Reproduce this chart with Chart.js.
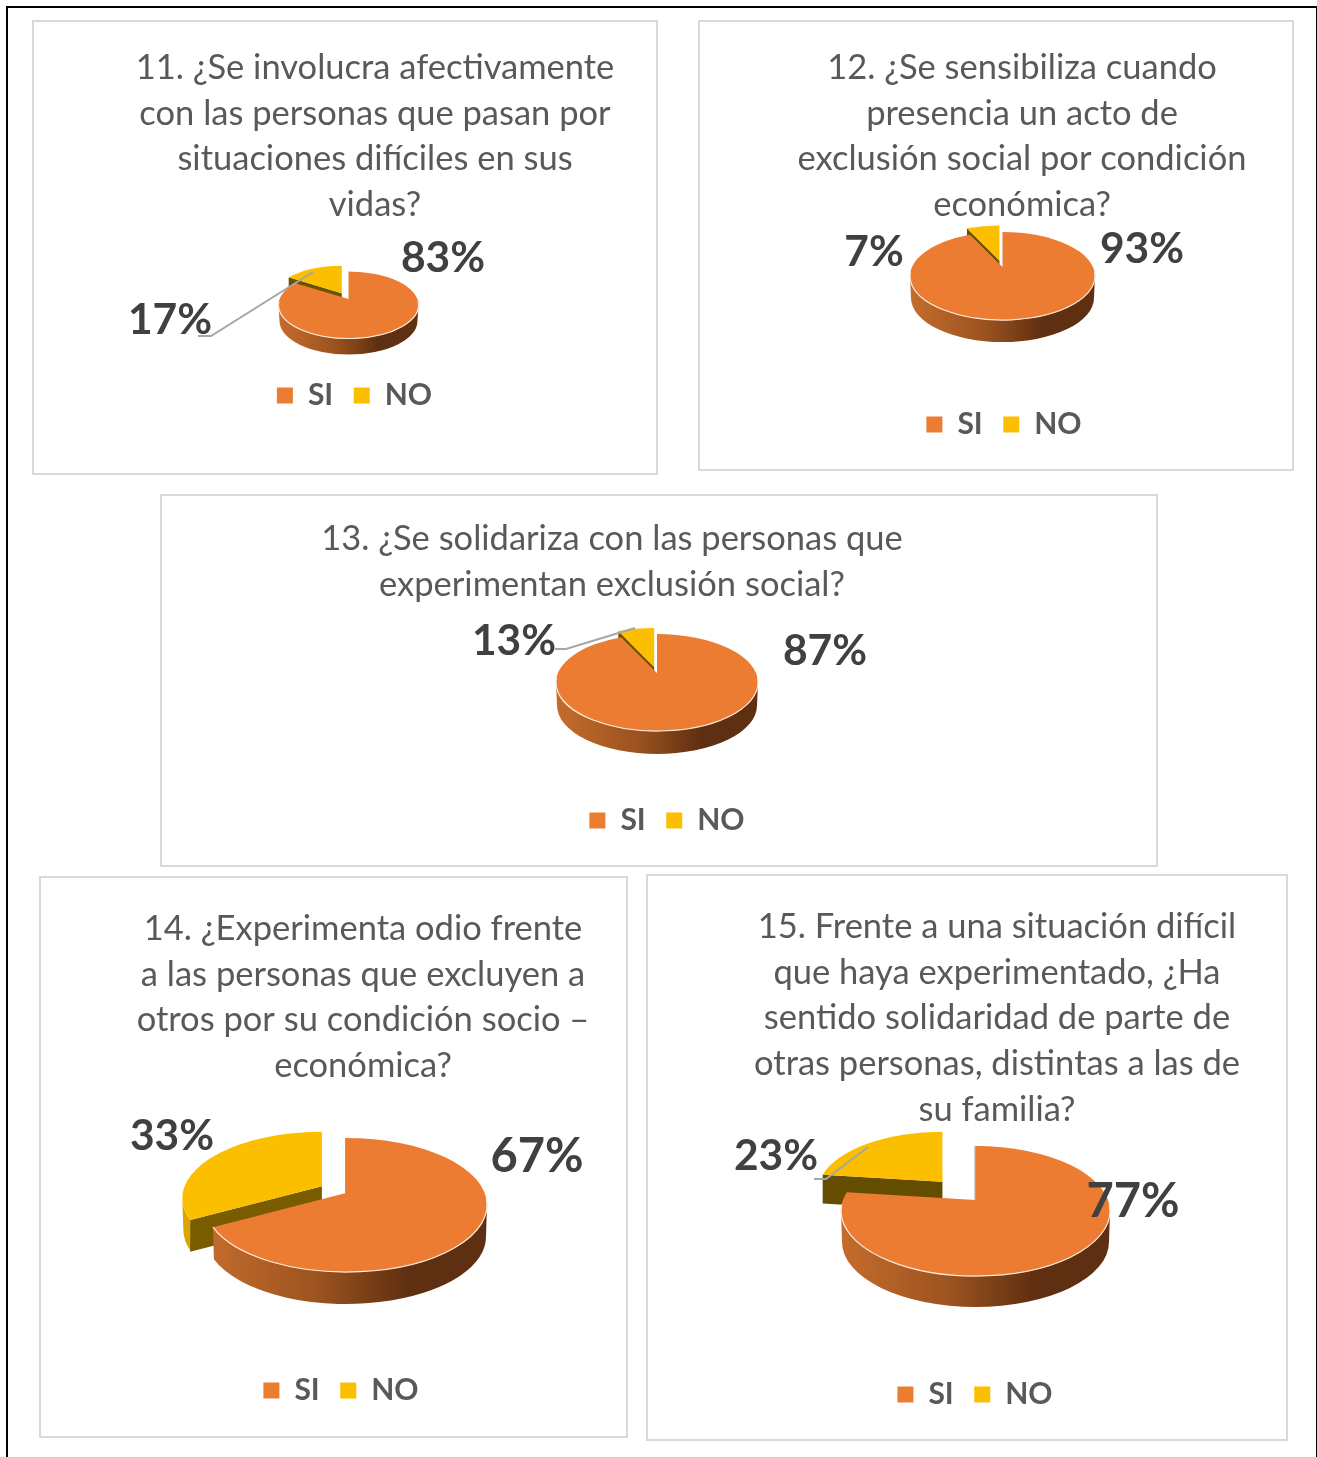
<!DOCTYPE html>
<html><head><meta charset="utf-8">
<style>
html,body{margin:0;padding:0;background:#fff;overflow:hidden}
#frame{position:absolute;left:6px;top:6px;width:1308px;height:1460px;border:2px solid #000}
.box{position:absolute;box-sizing:border-box;border:2px solid #d9d9d9;background:#fff}
canvas{position:absolute;display:block}
</style>
<script src="https://cdn.jsdelivr.net/npm/chart.js@4/dist/chart.umd.min.js"></script>
</head><body>
<div id="frame"></div>
<script>
const categories = ['SI', 'NO'];
// Printed percentages
const siLabels = [83, 93, 87, 67, 77];
const noLabels = [17, 7, 13, 33, 23];
// Slice sizes as drawn (chart 13's slice is visibly narrower than its printed 13 %)
const siSlices = [84, 93, 93, 67, 77];
const noSlices = [16, 7, 7, 33, 23];
const title11 = ['11. ¿Se involucra afectivamente', 'con las personas que pasan por', 'situaciones difíciles en sus', 'vidas?'];
const title12 = ['12. ¿Se sensibiliza cuando', 'presencia un acto de', 'exclusión social por condición', 'económica?'];
const title13 = ['13. ¿Se solidariza con las personas que', 'experimentan exclusión social?'];
const title14 = ['14. ¿Experimenta odio frente', 'a las personas que excluyen a', 'otros por su condición socio –', 'económica?'];
const title15 = ['15. Frente a una situación difícil', 'que haya experimentado, ¿Ha', 'sentido solidaridad de parte de', 'otras personas, distintas a las de', 'su familia?'];
const titles = [title11, title12, title13, title14, title15];

// Layout only (page pixels): frames, pie placement, text anchors.
const layouts = [
 {box:[32,20,626,455], c:[348.5,305], rx:70, ry:33.5, depth:16, apexDy:-6, off:14, ns:1, face:'#6b5200', title:[375,68], legend:[354.5,395.5], lab:[[443,258],[170,320]], labSize:42.5, leader:[[198,336],[211,336],[313,272]]},
 {box:[698,20,596,451], c:[1002.5,276], rx:92.5, ry:44, depth:22, apexDy:-9, off:14, ns:1, face:'#6b5200', title:[1022,68], legend:[1004,424.5], lab:[[1142,249],[874,252]], labSize:42.5},
 {box:[160,494,998,373], c:[657,682.5], rx:101, ry:48.5, depth:23, apexDy:-9.5, off:13, ns:1, face:'#6b5200', title:[612,539], legend:[667,820.5], lab:[[825,651],[514,641]], labSize:42.5, leader:[[555,649],[566,649],[635,628]]},
 {box:[39,876,589,562], c:[346,1205], rx:141, ry:67, depth:32, apexDy:-12, off:28, ns:0.99, edge:true, face:'#7a5c00', title:[363,929], legend:[341,1390.5], lab:[[537,1157],[172,1136]], labSize:[47,42.5]},
 {box:[646,874,642,567], c:[975.5,1211], rx:134.5, ry:65, depth:31, apexDy:-11, off:50, ns:0.93, edge:true, face:'#644d00', title:[997,927], legend:[975,1394.5], lab:[[1133,1202],[776,1156]], labSize:[47,42.5], leader:[[814,1179],[826,1179],[868,1147]]}
];
const FONT = 'Lato';
const TITLE_SIZE = 34.5, TITLE_LH = 45.6, LEG_SIZE = 30, LEG_PAD = 20.5;

// Perspective: a true pie angle (Chart.js radians) -> the parameter on the projected ellipse.
function warp(a, k) {
  const th = a + Math.PI / 2;
  let t = Math.atan2(Math.sqrt(1 - k * k) * Math.sin(th), Math.cos(th) + k);
  if (th > Math.PI && t < 0) t += 2 * Math.PI;
  return t - Math.PI / 2;
}
function wall(ctx, cx, cy, rx, ry, depth, a0, a1, fill) {
  const b0 = Math.max(a0, 0), b1 = Math.min(a1, Math.PI);
  if (b1 <= b0) return;
  ctx.beginPath();
  ctx.ellipse(cx, cy, rx, ry, 0, b0, b1);
  ctx.ellipse(cx, cy + depth, rx - 1, ry, 0, b1, b0, true);
  ctx.closePath();
  ctx.fillStyle = fill;
  ctx.fill();
}
const scene = {
  id: 'scene',
  afterLayout(chart, a, o) {
    const L = layouts[o.i], [bx, by] = L.box, W = 480;
    const t = chart.titleBlock, lg = chart.legend;
    t.left = L.title[0] - bx - W; t.right = L.title[0] - bx + W;
    t.top = L.title[1] - by - TITLE_LH / 2; t.bottom = t.top + TITLE_LH * titles[o.i].length;
    lg.left = L.legend[0] - bx - W; lg.right = L.legend[0] - bx + W;
    lg.top = L.legend[1] - by - LEG_PAD - LEG_SIZE / 2; lg.bottom = lg.top + 60;
  },
  beforeDatasetDraw(chart, args, o) {
    const L = layouts[o.i], ctx = chart.ctx, [cx, cy] = L.c, sq = L.ry / L.rx, k = -L.apexDy / L.ry;
    const arcs = args.meta.data;
    ctx.save();
    ctx.translate(-L.box[0], -L.box[1]);
    // the NO slice sits behind the SI slice
    [1, 0].forEach(i => {
      const arc = arcs[i], p = arc.getProps(['startAngle', 'endAngle', 'outerRadius']);
      const mid = (p.startAngle + p.endAngle) / 2, off = arc.options.offset;
      const s = i === 1 ? L.ns : 1;
      const ax = cx + Math.cos(mid) * off, ay = cy + L.apexDy + Math.sin(mid) * off * sq;
      const ex = ax, ey = ay - L.apexDy * s, erx = p.outerRadius * s, ery = erx * sq, d = L.depth * s;
      const a0 = warp(p.startAngle, k), a1 = warp(p.endAngle, k);
      let g;
      if (i === 0) {
        g = ctx.createLinearGradient(cx - L.rx, 0, cx + L.rx, 0);
        g.addColorStop(0, '#c56c2c'); g.addColorStop(0.4, '#9c531f'); g.addColorStop(0.72, '#5f2f11'); g.addColorStop(1, '#5f2f11');
      } else g = '#dca600';
      wall(ctx, ex, ey, erx, ery, d, a0, a1, g);
      if (i === 1) {
        const rpx = ex + erx * Math.cos(a0), rpy = ey + ery * Math.sin(a0);
        ctx.beginPath();
        ctx.moveTo(ax, ay); ctx.lineTo(rpx, rpy); ctx.lineTo(rpx, rpy + d); ctx.lineTo(ax, ay + d); ctx.closePath();
        ctx.fillStyle = L.face; ctx.fill();
      }
      ctx.beginPath();
      ctx.moveTo(ax, ay);
      ctx.ellipse(ex, ey, erx, ery, 0, a0, a1);
      ctx.closePath();
      ctx.fillStyle = arc.options.backgroundColor;
      ctx.fill();
      if (i === 0) {
        ctx.beginPath();
        ctx.ellipse(ex, ey, erx, ery, 0, Math.max(a0, -0.1), Math.min(a1, Math.PI + 0.1));
        ctx.strokeStyle = '#fde9dc'; ctx.lineWidth = 1.2; ctx.stroke();
        if (L.edge) {
          ctx.beginPath();
          ctx.moveTo(ax - 0.5, ay); ctx.lineTo(ex + erx * Math.cos(a0) - 0.5, ey + ery * Math.sin(a0));
          ctx.strokeStyle = 'rgba(130,110,90,0.7)'; ctx.lineWidth = 1; ctx.stroke();
        }
      }
    });
    ctx.restore();
    return false;
  },
  afterDatasetsDraw(chart, a, o) {
    const L = layouts[o.i], ctx = chart.ctx;
    ctx.save();
    ctx.translate(-L.box[0], -L.box[1]);
    if (L.leader) {
      ctx.beginPath();
      L.leader.forEach((q, i) => i ? ctx.lineTo(q[0], q[1]) : ctx.moveTo(q[0], q[1]));
      ctx.strokeStyle = '#a6a6a6'; ctx.lineWidth = 2; ctx.stroke();
    }
    ctx.fillStyle = '#404040'; ctx.textAlign = 'center'; ctx.textBaseline = 'middle';
    [siLabels[o.i], noLabels[o.i]].forEach((v, i) => {
      const s = Array.isArray(L.labSize) ? L.labSize[i] : L.labSize;
      ctx.font = `bold ${s}px ${FONT}`;
      ctx.fillText(v + '%', L.lab[i][0], L.lab[i][1]);
    });
    ctx.restore();
  }
};
layouts.forEach((L, i) => {
  const [x, y, w, h] = L.box;
  const box = document.createElement('div');
  box.className = 'box';
  box.style.cssText = `left:${x}px;top:${y}px;width:${w}px;height:${h}px`;
  document.body.appendChild(box);
  const cv = document.createElement('canvas');
  cv.width = w; cv.height = h;
  cv.style.cssText = `left:${x}px;top:${y}px;width:${w}px;height:${h}px`;
  document.body.appendChild(cv);
  new Chart(cv, {
    type: 'pie',
    data: { labels: categories, datasets: [{ data: [siSlices[i], noSlices[i]], backgroundColor: ['#eb7c31', '#fcbf00'], borderWidth: 0, offset: [0, L.off] }] },
    options: {
      responsive: false, animation: false, radius: L.rx,
      events: [],
      plugins: {
        title: { display: true, text: titles[i], color: '#595959', padding: 0, font: { family: FONT, size: TITLE_SIZE, weight: 'normal', lineHeight: TITLE_LH / TITLE_SIZE } },
        legend: { position: 'top', align: 'center', labels: { boxWidth: 16, boxHeight: 16, padding: LEG_PAD, color: '#595959', font: { family: FONT, size: LEG_SIZE, weight: 'bold' } } },
        tooltip: { enabled: false },
        scene: { i }
      }
    },
    plugins: [scene]
  });
});
</script>
</body></html>
